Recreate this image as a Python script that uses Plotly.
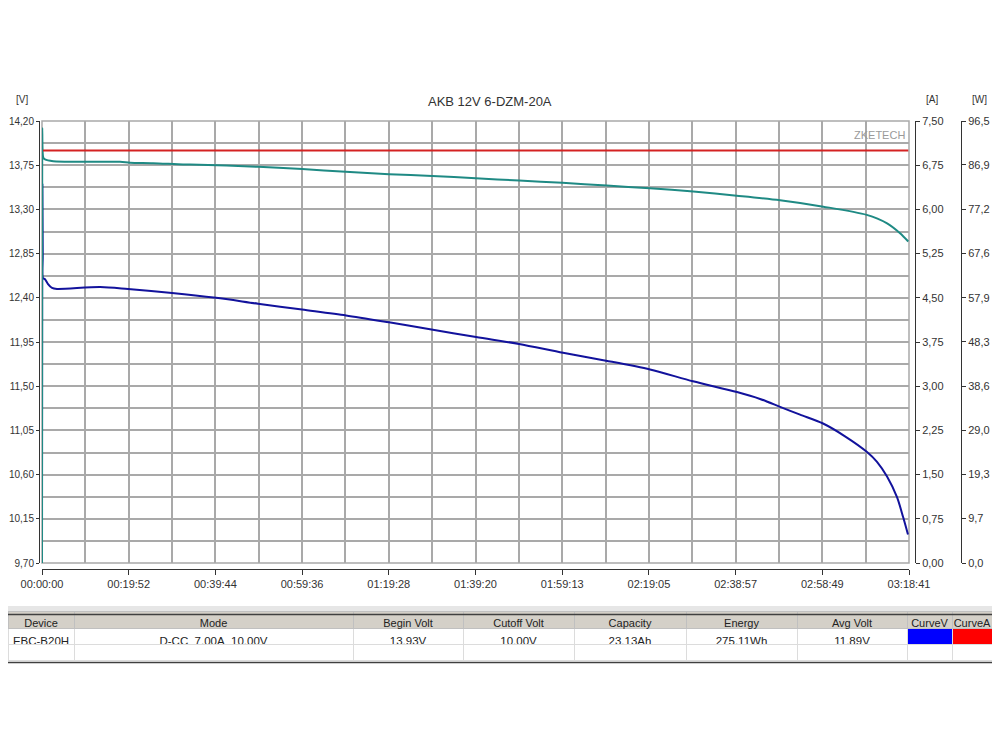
import plotly.graph_objects as go

# ---- data ----
# voltage curve (blue), time in seconds
volt_t = [0, 5, 10, 14, 41, 83, 138, 206, 798, 1183, 1788, 2393, 2970, 3575,
          4180, 4771, 5335, 5968, 6559, 7164, 7755, 8360, 8951, 9556, 9873,
          10148, 10423, 10739, 11041, 11344, 11481, 11619, 11756, 11839, 11907]
volt_v = [9.70, 13.55, 12.84, 12.60, 12.59, 12.54, 12.50, 12.49, 12.51, 12.49,
          12.45, 12.40, 12.34, 12.28, 12.22, 12.15, 12.08, 12.00, 11.93, 11.84,
          11.76, 11.67, 11.55, 11.44, 11.37, 11.29, 11.21, 11.12, 10.99, 10.83,
          10.73, 10.58, 10.37, 10.17, 9.99]

# power curve (teal), W
pow_t = [0, 3, 18, 41, 155, 1073, 1210, 1526, 1939, 2035, 2974, 3579, 4175,
         4771, 5366, 5963, 6559, 7155, 7765, 8360, 8955, 9552, 10148, 10743,
         11340, 11614, 11798, 11911]
pow_w = [0.0, 94.9, 88.5, 88.1, 87.7, 87.6, 87.4, 87.3, 87.0, 87.0, 86.5, 86.0,
         85.4, 84.9, 84.5, 84.0, 83.5, 83.0, 82.4, 81.8, 81.1, 80.2, 79.2, 77.8,
         76.0, 74.2, 72.0, 70.2]

# current (red), A
cur_t = [14, 11911]
cur_a = [7.00, 7.00]

x_ticks = ["00:00:00", "00:19:52", "00:39:44", "00:59:36", "01:19:28", "01:39:20",
           "01:59:13", "02:19:05", "02:38:57", "02:58:49", "03:18:41"]
v_ticks = ["9,70", "10,15", "10,60", "11,05", "11,50", "11,95", "12,40", "12,85",
           "13,30", "13,75", "14,20"]
a_ticks = ["0,00", "0,75", "1,50", "2,25", "3,00", "3,75", "4,50", "5,25", "6,00",
           "6,75", "7,50"]
w_ticks = ["0,0", "9,7", "19,3", "29,0", "38,6", "48,3", "57,9", "67,6", "77,2",
           "86,9", "96,5"]

tbl_header = ["Device", "Mode", "Begin Volt", "Cutoff Volt", "Capacity", "Energy",
              "Avg Volt", "CurveV", "CurveA"]
tbl_row = ["EBC-B20H", "D-CC\u00a0\u00a07,00A\u00a0\u00a010,00V", "13,93V", "10,00V",
           "23,13Ah", "275,11Wh", "11,89V", "", ""]
tbl_widths = [66, 279, 110, 111, 112, 111, 110, 45, 40]


def hms(s):
    h, m, sec = s.split(":")
    return int(h) * 3600 + int(m) * 60 + int(sec)


def num(s):
    return float(s.replace(",", "."))


# the page puts the figure 8px in from the top-left corner
W, H, OFF = 992, 742, 8


def px(x):
    return (x - OFF) / W


def py(y):
    return 1 - (y - OFF) / H


x_vals = [hms(s) for s in x_ticks]
x_end = x_vals[-1]
x_step = x_end / 20

GRID = "#a9a9a9"
AXC = "#333333"
FONT = "Liberation Sans"

fig = go.Figure()

# current sits on the labelled time axis so that axis gets drawn
fig.add_trace(go.Scatter(x=cur_t, y=cur_a, xaxis="x2", yaxis="y2", mode="lines",
                         line=dict(color="#d42222", width=2)))
fig.add_trace(go.Scatter(x=pow_t, y=pow_w, yaxis="y3", mode="lines",
                         line=dict(color="#1f8a84", width=2, shape="spline", smoothing=0.8)))
fig.add_trace(go.Scatter(x=volt_t, y=volt_v, yaxis="y", mode="lines",
                         line=dict(color="#12129c", width=2, shape="spline", smoothing=0.8)))

# bottom table
cols = list(zip(tbl_row, [""] * len(tbl_row)))
fills = []
for name in tbl_header:
    if name == "CurveV":
        fills.append(["#0000ff", "white"])
    elif name == "CurveA":
        fills.append(["#ff0000", "white"])
    else:
        fills.append(["white", "white"])

fig.add_trace(go.Table(
    domain=dict(x=[0, px(992)], y=[py(666), py(611)]),
    columnwidth=tbl_widths,
    header=dict(values=tbl_header, fill_color="#d4d0c8", height=17,
                line=dict(color="#c0c0c0", width=1),
                font=dict(family=FONT, size=11, color="#222222"), align="center"),
    cells=dict(values=[list(c) for c in cols], fill_color=fills, height=16,
               line=dict(color="#dcdcdc", width=1),
               font=dict(family=FONT, size=11.5, color="#222222"), align="center"),
))

fig.update_layout(
    width=W, height=H, autosize=False,
    margin=dict(l=0, r=0, t=0, b=0, autoexpand=False),
    paper_bgcolor="white", plot_bgcolor="white",
    showlegend=False,
    font=dict(family=FONT, size=11, color=AXC),
    # grid-only axis
    xaxis=dict(domain=[px(42), px(909)], range=[0, x_end], anchor="y",
               tickmode="linear", tick0=0, dtick=x_step,
               showticklabels=False, ticks="", showline=False,
               showgrid=True, gridcolor=GRID, gridwidth=1.5, zeroline=False),
    # labelled time axis below the plot
    xaxis2=dict(overlaying="x", range=[0, x_end], anchor="free",
                position=py(569),
                tickmode="array", tickvals=x_vals, ticktext=x_ticks,
                showgrid=False, showline=True, linecolor=AXC, linewidth=1,
                ticks="outside", ticklen=5, tickcolor=AXC, zeroline=False,
                tickfont=dict(size=11)),
    yaxis=dict(domain=[py(563), py(121)], range=[9.7, 14.2],
               anchor="free", position=px(39), side="left",
               tickmode="array", tickvals=[num(s) for s in v_ticks], ticktext=v_ticks,
               showgrid=True, gridcolor=GRID, gridwidth=1.5,
               minor=dict(tick0=9.7, dtick=0.225, showgrid=True,
                          gridcolor=GRID, gridwidth=1.5),
               showline=True, linecolor=AXC, linewidth=1,
               ticks="outside", ticklen=3, tickcolor=AXC, zeroline=False,
               tickfont=dict(size=10)),
    yaxis2=dict(overlaying="y", range=[0, 7.5], anchor="free", position=px(915),
                side="right", tickmode="array",
                tickvals=[num(s) for s in a_ticks], ticktext=a_ticks,
                showgrid=False, showline=True, linecolor=AXC, linewidth=1,
                ticks="outside", ticklen=4, tickcolor=AXC, zeroline=False),
    yaxis3=dict(overlaying="y", range=[0, 96.5], anchor="free", position=px(961),
                side="right", tickmode="array",
                tickvals=[num(s) for s in w_ticks], ticktext=w_ticks,
                showgrid=False, showline=True, linecolor=AXC, linewidth=1,
                ticks="outside", ticklen=4, tickcolor=AXC, zeroline=False),
)

# plot frame
fig.add_shape(type="rect", xref="x domain", yref="y domain", x0=0, x1=1, y0=0, y1=1,
              line=dict(color=GRID, width=1.5), layer="below")
# band and rules around the table
fig.add_shape(type="rect", xref="paper", yref="paper", x0=0, x1=1,
              y0=py(614), y1=py(606), fillcolor="#e6e6e6", line=dict(width=0),
              layer="below")
fig.add_shape(type="line", xref="paper", yref="paper", x0=0, x1=1,
              y0=py(614.5), y1=py(614.5), line=dict(color="#404040", width=1.5))
fig.add_shape(type="line", xref="paper", yref="paper", x0=0, x1=1,
              y0=py(662.5), y1=py(662.5), line=dict(color="#404040", width=1.5))

fig.add_annotation(text="AKB 12V 6-DZM-20A", xref="paper", yref="paper",
                   x=px(490), y=py(102), xanchor="center", yanchor="middle",
                   showarrow=False, font=dict(size=13, color="#333333"))
for txt, xx in [("[V]", 22), ("[A]", 932), ("[W]", 979)]:
    fig.add_annotation(text=txt, xref="paper", yref="paper", x=px(xx),
                       y=py(100), xanchor="center", yanchor="middle",
                       showarrow=False, font=dict(size=10, color="#333333"))
fig.add_annotation(text="ZKETECH", xref="paper", yref="paper", x=px(907),
                   y=py(135), xanchor="right", yanchor="middle", showarrow=False,
                   font=dict(size=11, color="#9a9a9a"))

fig.write_html("out.html")
